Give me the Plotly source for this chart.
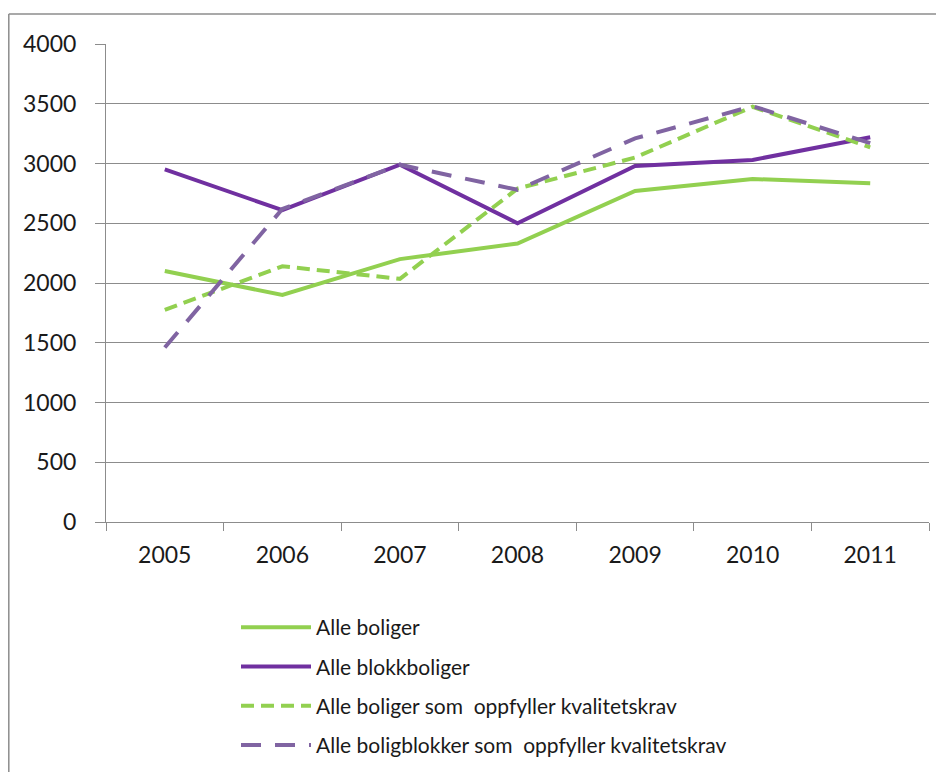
import plotly.graph_objects as go

# data
years = ['2005', '2006', '2007', '2008', '2009', '2010', '2011']
alle_boliger = [2100, 1900, 2200, 2330, 2770, 2870, 2835]
alle_blokkboliger = [2950, 2610, 2990, 2500, 2980, 3030, 3220]
boliger_krav = [1775, 2140, 2035, 2790, 3050, 3475, 3135]
blokker_krav = [1460, 2620, 2990, 2780, 3210, 3480, 3170]

names = ['Alle boliger', 'Alle blokkboliger',
         'Alle boliger som  oppfyller kvalitetskrav',
         'Alle boligblokker som  oppfyller kvalitetskrav']

GREEN = '#92D050'
PURPLE = '#7030A0'
LILAC = '#8064A2'
GRID = '#8c8c8c'
FONT = 'Lato'

fig = go.Figure()
series = [
    (alle_boliger, names[0], GREEN, 'solid'),
    (alle_blokkboliger, names[1], PURPLE, 'solid'),
    (boliger_krav, names[2], GREEN, '13px,7px'),
    (blokker_krav, names[3], LILAC, '20px,14px'),
]
for i, (vals, name, color, dash) in enumerate(series):
    fig.add_trace(go.Scatter(
        x=years, y=vals, name=name, mode='lines',
        legendgroup=str(i),
        line=dict(color=color, width=4, dash=dash),
    ))

# page has an 8px body margin, so the figure is 936x764 and
# positions below are given in page pixels (plot area x 106..929, y 44..522)
OFF = 8
W, H = 936, 764
L, T = 106 - OFF, 44 - OFF
R, B = W - (929 - OFF), H - (522 - OFF)
pw, ph = W - L - R, H - T - B


def px(x):
    return (x - OFF - L) / pw


def py(y):
    return (H - B - (y - OFF)) / ph


fig.update_layout(
    width=W, height=H,
    margin=dict(l=L, r=R, t=T, b=B, autoexpand=False),
    paper_bgcolor='white', plot_bgcolor='white',
    font=dict(family=FONT, size=23, color='#1a1a1a'),
    showlegend=True,
    legend=dict(
        x=px(236), y=py(607), xanchor='left', yanchor='top',
        itemwidth=70, tracegroupgap=9,
        font=dict(family=FONT, size=21, color='#1a1a1a'),
        bgcolor='rgba(0,0,0,0)',
    ),
    xaxis=dict(
        type='category', tickson='boundaries', range=[-0.5, 6.5],
        ticks='outside', ticklen=8, tickcolor=GRID,
        showline=True, linecolor=GRID, linewidth=1,
        showgrid=False, ticklabelstandoff=12, automargin=False,
        tickfont=dict(size=23),
    ),
    yaxis=dict(
        range=[0, 4000], dtick=500, tickformat='d',
        ticks='outside', ticklen=10, tickcolor=GRID,
        showline=True, linecolor=GRID, linewidth=1,
        showgrid=True, gridcolor=GRID, gridwidth=1,
        zeroline=False, ticklabelstandoff=14, automargin=False,
        tickfont=dict(size=23),
    ),
    shapes=[
        # chart area border (only top and left edges are visible)
        dict(type='line', xref='paper', yref='paper',
             x0=px(8.8), x1=px(1000), y0=py(14), y1=py(14),
             line=dict(color=GRID, width=1.5)),
        dict(type='line', xref='paper', yref='paper',
             x0=px(8.8), x1=px(8.8), y0=py(14), y1=py(900),
             line=dict(color=GRID, width=1.5)),
    ],
)

fig.write_html('out.html')
